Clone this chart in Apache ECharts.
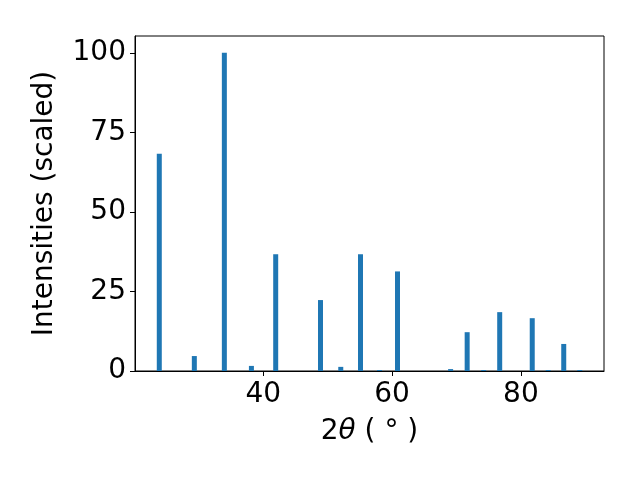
<!DOCTYPE html>
<html>
<head>
<meta charset="utf-8">
<script src="https://cdn.jsdelivr.net/npm/echarts@6/dist/echarts.min.js"></script>
<style>html,body{margin:0;padding:0;background:#fff}#c{width:640px;height:480px}</style>
</head>
<body>
<div id="c"></div>
<script>
const twoTheta = [23.87, 29.31, 33.97, 38.17, 41.94, 48.89, 52.04, 55.10, 58.06, 60.85, 69.09, 71.66, 74.22, 76.71, 81.76, 84.24, 86.65, 89.14];
const intensities = [68.3, 4.7, 100, 1.6, 36.7, 22.3, 1.3, 36.7, 0.3, 31.3, 0.6, 12.2, 0.3, 18.5, 16.6, 0.3, 8.5, 0.3];
const xTicks = [40, 60, 80];
const yTicks = [0, 25, 50, 75, 100];

const chart = echarts.init(document.getElementById('c'));
const font = 'DejaVu Sans';
const fs = 28;
chart.setOption({
  animation: false,
  grid: { left: 135, right: 36, top: 36, bottom: 109, show: true, borderColor: '#000', borderWidth: 1, backgroundColor: 'transparent' },
  xAxis: {
    type: 'value', min: 20.1, max: 92.9,
    splitLine: { show: false },
    axisLine: { show: true, onZero: false, lineStyle: { color: '#000', width: 1 } },
    axisTick: { show: true, length: 5, customValues: xTicks, lineStyle: { color: '#000', width: 1 } },
    axisLabel: { customValues: xTicks, margin: 10, fontFamily: font, fontSize: fs, color: '#000' },
    name: '2{i|θ} ( ° )', nameLocation: 'middle', nameGap: 47,
    nameTextStyle: { fontFamily: font, fontSize: fs, color: '#000',
      rich: { i: { fontFamily: font, fontSize: fs, fontStyle: 'italic', color: '#000' } } }
  },
  yAxis: {
    type: 'value', min: 0, max: 105.3,
    splitLine: { show: false },
    axisLine: { show: true, lineStyle: { color: '#000', width: 1 } },
    axisTick: { show: true, length: 5, customValues: yTicks, lineStyle: { color: '#000', width: 1 } },
    axisLabel: { customValues: yTicks, margin: 9, fontFamily: font, fontSize: fs, color: '#000' },
    name: 'Intensities (scaled)', nameLocation: 'middle', nameGap: 76,
    nameTextStyle: { fontFamily: font, fontSize: fs, color: '#000' }
  },
  series: [{
    type: 'bar',
    data: twoTheta.map((x, i) => [x, intensities[i]]),
    barWidth: 5,
    itemStyle: { color: '#1f77b4' }
  }]
});
</script>
</body>
</html>
